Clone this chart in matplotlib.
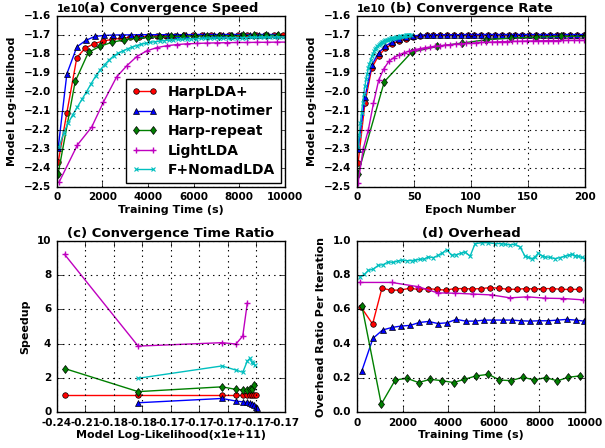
import numpy as np
import matplotlib
matplotlib.use("Agg")
import matplotlib.pyplot as plt
from matplotlib.ticker import MultipleLocator

plt.style.use("classic")
plt.rcParams.update({
    "figure.facecolor": "white",
    "savefig.facecolor": "white",
    "font.family": "DejaVu Sans",
    "font.weight": "bold",
    "axes.labelweight": "bold",
    "axes.titleweight": "bold",
    "xtick.labelsize": 7.5,
    "ytick.labelsize": 7.5,
    "axes.labelsize": 8,
    "axes.titlesize": 9.5,
    "legend.numpoints": 2,
    "lines.linewidth": 1.0,
    "grid.linestyle": ":",
    "grid.color": "k",
    "grid.linewidth": 0.8,
})

names = ["HarpLDA+", "Harp-notimer", "Harp-repeat", "LightLDA", "F+NomadLDA"]

# ---- (a) convergence speed: time (s) vs log-likelihood (x1e10)
a_red_t = [58, 438, 876, 1241, 1635, 2029, 2420, 2810, 3200, 3595, 3990, 4385, 4780,
           5175, 5570, 5965, 6360, 6755, 7150, 7545, 7940, 8335, 8730, 9125, 9520, 9915]
a_red_y = [-2.37, -2.11, -1.82, -1.771, -1.747, -1.733, -1.725, -1.719, -1.714, -1.711,
           -1.709, -1.707, -1.706, -1.705, -1.704, -1.703, -1.703, -1.702, -1.702, -1.701,
           -1.701, -1.701, -1.700, -1.700, -1.700, -1.700]
a_blue_t = [58, 438, 876, 1270, 1664, 2073, 2470, 2870, 3270, 3670, 4070, 4470, 4870,
            5270, 5670, 6070, 6470, 6870, 7270, 7670, 8070, 8470, 8870, 9270, 9670]
a_blue_y = [-2.296, -1.906, -1.764, -1.730, -1.709, -1.704, -1.702, -1.701, -1.701, -1.700,
            -1.700, -1.700, -1.700, -1.700, -1.700, -1.699, -1.699, -1.699, -1.699, -1.699,
            -1.699, -1.699, -1.699, -1.699, -1.699]
a_green_t = [58, 803, 1387, 1898, 2409, 2949, 3460, 3980, 4500, 5020, 5540, 6060, 6580,
             7100, 7620, 8140, 8660, 9180, 9700]
a_green_y = [-2.43, -1.946, -1.792, -1.761, -1.740, -1.727, -1.719, -1.714, -1.711, -1.709,
             -1.708, -1.707, -1.706, -1.705, -1.705, -1.704, -1.704, -1.703, -1.703]
a_mag_t = [100, 900, 1530, 2040, 2620, 3060, 3500, 3940, 4380, 4820, 5260, 5700, 6140,
           6580, 7020, 7460, 7900, 8340, 8780, 9220, 9660, 10100]
a_mag_y = [-2.475, -2.28, -2.185, -2.055, -1.922, -1.864, -1.815, -1.785, -1.768, -1.758,
           -1.752, -1.748, -1.746, -1.744, -1.743, -1.742, -1.741, -1.741, -1.740, -1.740,
           -1.739, -1.739]
a_cyan_t = [100, 300, 500, 700, 900, 1100, 1300, 1500, 1700, 1900, 2100, 2300, 2500, 2700,
            2900, 3100, 3300, 3500, 3700, 3900, 4100, 4300, 4500, 4700, 4900, 5100, 5300,
            5500, 5700, 5900, 6100, 6300, 6500, 6700, 6900, 7100, 7300, 7500, 7700, 7900,
            8100, 8300, 8500, 8700, 8900, 9100, 9300, 9500, 9700, 9900]
a_cyan_y = [-2.29, -2.215, -2.165, -2.12, -2.08, -2.04, -2.00, -1.958, -1.918, -1.885,
            -1.857, -1.832, -1.811, -1.797, -1.785, -1.774, -1.765, -1.757, -1.750, -1.745,
            -1.740, -1.737, -1.734, -1.731, -1.729, -1.727, -1.725, -1.724, -1.723, -1.722,
            -1.721, -1.720, -1.719, -1.718, -1.718, -1.717, -1.717, -1.716, -1.716, -1.715,
            -1.715, -1.715, -1.714, -1.714, -1.714, -1.713, -1.713, -1.713, -1.712, -1.712]

# ---- (b) convergence rate: epoch vs log-likelihood (x1e10)
b_red_e = [1, 7, 13, 19, 25, 31, 37, 43, 49, 55, 61, 67, 73, 79, 85, 91, 97, 103, 109,
           115, 121, 127, 133, 139, 145, 151, 157, 163, 169, 175, 181, 187, 193, 199]
b_red_y = [-2.375, -2.06, -1.875, -1.81, -1.772, -1.748, -1.733, -1.721, -1.712, -1.707,
           -1.704, -1.703, -1.702, -1.702, -1.702, -1.701, -1.701, -1.701, -1.701, -1.701,
           -1.700, -1.700, -1.700, -1.700, -1.700, -1.700, -1.700, -1.700, -1.700, -1.700,
           -1.700, -1.700, -1.700, -1.700]
b_blue_e = [1, 7, 13, 19, 25, 31, 37, 43, 49, 55, 61, 67, 73, 79, 85, 91, 97, 103, 109,
            115, 121, 127, 133, 139, 145, 151, 157, 163, 169, 175, 181, 187, 193, 199]
b_blue_y = [-2.30, -2.03, -1.86, -1.795, -1.76, -1.738, -1.724, -1.714, -1.707, -1.703,
            -1.701, -1.700, -1.700, -1.700, -1.700, -1.700, -1.699, -1.699, -1.699, -1.699,
            -1.699, -1.699, -1.699, -1.699, -1.699, -1.699, -1.699, -1.699, -1.699, -1.699,
            -1.699, -1.699, -1.699, -1.699]
b_green_e = [1, 24, 48, 70, 92, 113, 135, 157, 179, 200]
b_green_y = [-2.43, -1.947, -1.792, -1.762, -1.744, -1.727, -1.718, -1.712, -1.709, -1.707]
b_mag_e = [1, 5.5, 10, 14.5, 19, 23.5, 28, 32.5, 37, 41.5, 46, 50.5, 55, 59.5, 64, 68.5,
           73, 77.5, 82, 86.5, 91, 95.5, 100, 104.5, 109, 113.5, 118, 122.5, 127, 131.5,
           136, 140.5, 145, 149.5, 154, 158.5, 163, 167.5, 172, 176.5, 181, 185.5, 190,
           194.5, 199]
b_mag_y = [-2.48, -2.30, -2.20, -2.06, -1.94, -1.88, -1.84, -1.82, -1.806, -1.795, -1.786,
           -1.779, -1.774, -1.769, -1.765, -1.761, -1.758, -1.755, -1.752, -1.750, -1.748,
           -1.746, -1.744, -1.743, -1.741, -1.740, -1.739, -1.738, -1.737, -1.736, -1.735,
           -1.735, -1.734, -1.733, -1.733, -1.732, -1.732, -1.731, -1.731, -1.731, -1.730,
           -1.730, -1.730, -1.730, -1.730]
b_cyan_e = list(range(1, 48))
b_cyan_y = [-2.29, -2.23, -2.165, -2.11, -2.06, -2.01, -1.97, -1.935, -1.905, -1.877,
            -1.853, -1.832, -1.814, -1.799, -1.787, -1.777, -1.768, -1.760, -1.754, -1.748,
            -1.744, -1.740, -1.736, -1.733, -1.730, -1.728, -1.726, -1.724, -1.722, -1.720,
            -1.719, -1.717, -1.716, -1.714, -1.713, -1.711, -1.710, -1.709, -1.708, -1.707,
            -1.706, -1.705, -1.704, -1.703, -1.702, -1.701, -1.700]

# ---- (c) convergence time ratio (x = position on likelihood axis)
c_ticklabels = ["-0.24", "-0.21", "-0.18", "-0.18", "-0.17", "-0.17", "-0.17", "-0.17", "-0.17"]
c_red_x = [0.27, 2.85, 5.79, 6.28, 6.52, 6.68, 6.78, 6.86, 6.93, 6.98]
c_red_y = [1.0, 1.0, 1.0, 1.0, 1.0, 1.0, 1.0, 1.0, 1.0, 1.0]
c_blue_x = [2.85, 5.79, 6.28, 6.52, 6.68, 6.78, 6.86, 6.93, 6.98, 7.02]
c_blue_y = [0.55, 0.80, 0.65, 0.60, 0.57, 0.55, 0.50, 0.42, 0.33, 0.25]
c_green_x = [0.27, 2.85, 5.79, 6.28, 6.52, 6.68, 6.78, 6.86, 6.93]
c_green_y = [2.55, 1.20, 1.48, 1.33, 1.30, 1.30, 1.33, 1.38, 1.60]
c_mag_x = [0.27, 2.85, 5.79, 6.28, 6.52, 6.68]
c_mag_y = [9.22, 3.86, 4.06, 3.98, 4.45, 6.38]
c_cyan_x = [2.85, 5.79, 6.28, 6.52, 6.68, 6.77, 6.83, 6.89, 6.94]
c_cyan_y = [1.98, 2.70, 2.46, 2.33, 2.99, 3.14, 2.95, 2.85, 2.75]

# ---- (d) overhead ratio per iteration
d_red_t = [190, 686, 1095, 1489, 1898, 2307, 2701, 3095, 3504, 3898, 4277, 4672, 5066,
           5445, 5839, 6234, 6613, 7007, 7401, 7781, 8175, 8569, 8949, 9343, 9737]
d_red_y = [0.612, 0.515, 0.724, 0.713, 0.713, 0.724, 0.717, 0.722, 0.717, 0.713, 0.722,
           0.722, 0.720, 0.722, 0.728, 0.724, 0.718, 0.718, 0.722, 0.720, 0.722, 0.722,
           0.718, 0.717, 0.718]
d_blue_t = [219, 700, 1124, 1533, 1927, 2336, 2730, 3139, 3547, 3942, 4350, 4774, 5182,
            5577, 5985, 6394, 6788, 7182, 7591, 7985, 8394, 8788, 9197, 9606, 9956]
d_blue_y = [0.243, 0.431, 0.480, 0.495, 0.503, 0.507, 0.524, 0.530, 0.518, 0.522, 0.542,
            0.532, 0.532, 0.538, 0.538, 0.538, 0.538, 0.534, 0.532, 0.534, 0.534, 0.538,
            0.542, 0.538, 0.532]
d_green_t = [219, 1066, 1679, 2190, 2701, 3212, 3723, 4234, 4715, 5226, 5766, 6248, 6759,
             7270, 7781, 8277, 8788, 9270, 9781]
d_green_y = [0.619, 0.047, 0.188, 0.198, 0.173, 0.192, 0.184, 0.173, 0.192, 0.212, 0.221,
             0.188, 0.184, 0.204, 0.188, 0.202, 0.183, 0.204, 0.212]
d_mag_t = [130, 1520, 2690, 3540, 4300, 5100, 5900, 6710, 7470, 8250, 9050, 9930]
d_mag_y = [0.758, 0.758, 0.733, 0.697, 0.695, 0.690, 0.685, 0.668, 0.674, 0.666, 0.664, 0.656]
d_cyan_t = [130, 330, 500, 700, 940, 1150, 1370, 1600, 1800, 1960, 2200, 2400, 2550, 2750,
            2950, 3130, 3350, 3570, 3750, 3930, 4150, 4350, 4550, 4740, 4960, 5180, 5470,
            5760, 6050, 6300, 6490, 6700, 6930, 7150, 7370, 7520, 7660, 7800, 7950, 8100,
            8250, 8450, 8680, 8900, 9120, 9300, 9420, 9560, 9710, 9850, 10000]
d_cyan_y = [0.790, 0.805, 0.829, 0.835, 0.858, 0.862, 0.878, 0.875, 0.884, 0.888, 0.885,
            0.886, 0.888, 0.893, 0.895, 0.907, 0.903, 0.917, 0.930, 0.950, 0.917, 0.920,
            0.928, 0.936, 0.911, 0.985, 0.990, 0.990, 0.985, 0.985, 0.981, 0.978, 0.981,
            0.965, 0.911, 0.905, 0.897, 0.905, 0.930, 0.915, 0.907, 0.905, 0.897, 0.903,
            0.911, 0.918, 0.923, 0.915, 0.911, 0.905, 0.897]

fig = plt.figure(figsize=(6.05, 4.48), dpi=100)
ax_a = fig.add_axes([0.094, 0.583, 0.377, 0.382])
ax_b = fig.add_axes([0.590, 0.583, 0.377, 0.382])
ax_c = fig.add_axes([0.094, 0.080, 0.377, 0.382])
ax_d = fig.add_axes([0.590, 0.080, 0.377, 0.382])

filled = dict(mec="k", mew=0.5)


def draw_series(ax, pairs):
    (rx, ry), (bx, by), (gx, gy), (mx, my), (cx, cy) = pairs
    ax.plot(rx, ry, "r-o", ms=4, label=names[0], **filled)
    ax.plot(bx, by, "b-^", ms=4.5, label=names[1], **filled)
    ax.plot(gx, gy, "g-d", ms=4.5, label=names[2], **filled)
    ax.plot(mx, my, "m-+", ms=5, mew=1, label=names[3])
    ax.plot(cx, cy, "c-x", ms=3.5, mew=0.8, label=names[4])


scale = 1e10
for ax, data, xl in [
    (ax_a, [(a_red_t, a_red_y), (a_blue_t, a_blue_y), (a_green_t, a_green_y),
            (a_mag_t, a_mag_y), (a_cyan_t, a_cyan_y)], "Training Time (s)"),
    (ax_b, [(b_red_e, b_red_y), (b_blue_e, b_blue_y), (b_green_e, b_green_y),
            (b_mag_e, b_mag_y), (b_cyan_e, b_cyan_y)], "Epoch Number"),
]:
    draw_series(ax, [(x, np.array(y) * scale) for x, y in data])
    ax.set_ylim(-2.5e10, -1.6e10)
    ax.yaxis.set_major_locator(MultipleLocator(1e9))
    ax.ticklabel_format(axis="y", style="sci", scilimits=(0, 0))
    ax.set_ylabel("Model Log-likelihood")
    ax.set_xlabel(xl, labelpad=2)
    ax.grid(True)

ax_a.set_xlim(0, 10000)
ax_a.set_xticks([0, 2000, 4000, 6000, 8000, 10000])
ax_a.set_title("(a) Convergence Speed", pad=3)
leg = ax_a.legend(loc="lower right", frameon=True, borderaxespad=0.3,
                  handlelength=1.8, handletextpad=0.8, labelspacing=0.4,
                  borderpad=0.4, prop={"weight": "bold", "size": 10})
leg.get_frame().set_linewidth(1.0)

ax_b.set_xlim(0, 200)
ax_b.set_xticks([0, 50, 100, 150, 200])
ax_b.set_title("(b) Convergence Rate", pad=3)

draw_series(ax_c, [(c_red_x, c_red_y), (c_blue_x, c_blue_y), (c_green_x, c_green_y),
                   (c_mag_x, c_mag_y), (c_cyan_x, c_cyan_y)])
ax_c.set_xlim(0, len(c_ticklabels) - 1)
ax_c.set_xticks(range(len(c_ticklabels)))
ax_c.set_xticklabels(c_ticklabels)
ax_c.set_ylim(0, 10)
ax_c.set_yticks([0, 2, 4, 6, 8, 10])
ax_c.set_ylabel("Speedup")
ax_c.set_xlabel("Model Log-Likelihood(x1e+11)", labelpad=2)
ax_c.set_title("(c) Convergence Time Ratio", pad=3)
ax_c.grid(True)

draw_series(ax_d, [(d_red_t, d_red_y), (d_blue_t, d_blue_y), (d_green_t, d_green_y),
                   (d_mag_t, d_mag_y), (d_cyan_t, d_cyan_y)])
ax_d.set_xlim(0, 10000)
ax_d.set_xticks([0, 2000, 4000, 6000, 8000, 10000])
ax_d.set_ylim(0, 1.0)
ax_d.set_yticks([0.0, 0.2, 0.4, 0.6, 0.8, 1.0])
ax_d.set_ylabel("Overhead Ratio Per Iteration")
ax_d.set_xlabel("Training Time (s)", labelpad=2)
ax_d.set_title("(d) Overhead", pad=3)
ax_d.grid(True)

for ax in (ax_a, ax_b, ax_c, ax_d):
    for lbl in ax.get_xticklabels() + ax.get_yticklabels():
        lbl.set_fontweight("bold")
    ax.yaxis.get_offset_text().set_fontweight("bold")
    ax.yaxis.get_offset_text().set_fontsize(7.5)

fig.savefig("out.png", dpi=100)
